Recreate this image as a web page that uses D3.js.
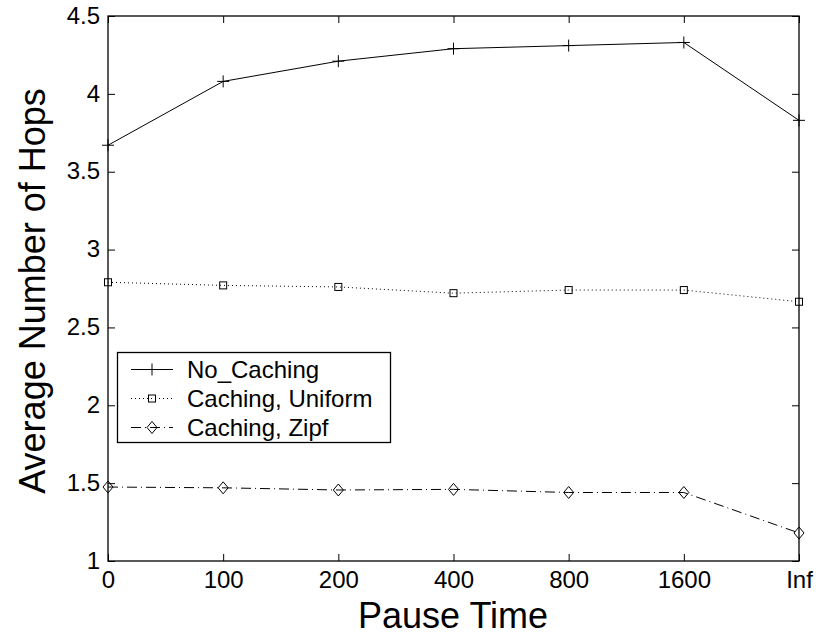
<!DOCTYPE html>
<html lang="en">
<head>
  <meta charset="UTF-8">
  <title>Average Number of Hops vs Pause Time</title>
  <script src="https://d3js.org/d3.v7.min.js"></script>
  <style>
    body { margin: 0; background: #fff; }
    text { font-family: "Liberation Sans", Arial, sans-serif; fill: #000; }
    .line { fill: none; stroke: #000; stroke-width: 1; }
  </style>
</head>
<body>
  <svg width="832" height="636"></svg>
  <script>
    const pauseTimes = ["0", "100", "200", "400", "800", "1600", "Inf"];
    const noCaching = [3.67, 4.08, 4.21, 4.29, 4.31, 4.33, 3.83];
    const cachingUniform = [2.79, 2.77, 2.76, 2.72, 2.74, 2.74, 2.665];
    const cachingZipf = [1.475, 1.47, 1.456, 1.46, 1.44, 1.44, 1.18];
    const yTicks = [1, 1.5, 2, 2.5, 3, 3.5, 4, 4.5];

    const series = [
      { name: "No_Caching", values: noCaching, dash: null, marker: "plus" },
      { name: "Caching, Uniform", values: cachingUniform, dash: "1,3", marker: "square" },
      { name: "Caching, Zipf", values: cachingZipf, dash: "10,4,1,4", marker: "diamond" }
    ];

    const svg = d3.select("svg");
    const plotL = 108, plotR = 799, plotT = 16, plotB = 561;

    const x = d3.scalePoint().domain(pauseTimes).range([plotL, plotR]).padding(0);
    const y = d3.scaleLinear().domain([1, 4.5]).range([plotB, plotT]);

    // frame
    svg.append("rect")
      .attr("x", plotL).attr("y", plotT)
      .attr("width", plotR - plotL).attr("height", plotB - plotT)
      .attr("fill", "none").attr("stroke", "#000").attr("stroke-width", 1.3);

    // inward ticks on all sides
    const tickLen = 7;
    const axisBottom = d3.axisBottom(x).tickSize(-tickLen);
    const axisTop = d3.axisTop(x).tickSize(-tickLen).tickFormat("");
    const axisLeft = d3.axisLeft(y).tickValues(yTicks).tickSize(-tickLen).tickPadding(8).tickFormat(d3.format("~g"));
    const axisRight = d3.axisRight(y).tickValues(yTicks).tickSize(-tickLen).tickFormat("");

    function styleAxis(g) {
      g.attr("font-size", 24).attr("font-family", "'Liberation Sans', Arial, sans-serif");
      g.select(".domain").remove();
      g.selectAll(".tick line").attr("stroke", "#000");
      g.selectAll(".tick text").style("font-size", "24px").attr("fill", "#000");
    }

    svg.append("g").attr("transform", `translate(0,${plotB})`).call(axisBottom).call(styleAxis)
      .selectAll(".tick text").attr("y", 27).attr("dy", null);
    svg.append("g").attr("transform", `translate(0,${plotT})`).call(axisTop).call(styleAxis);
    svg.append("g").attr("transform", `translate(${plotL},0)`).call(axisLeft).call(styleAxis)
      .selectAll(".tick text").attr("dy", "0.3em");
    svg.append("g").attr("transform", `translate(${plotR},0)`).call(axisRight).call(styleAxis);

    const line = d3.line().x((d, i) => x(pauseTimes[i])).y(d => y(d));

    function drawMarker(g, type, cx, cy) {
      if (type === "plus") {
        g.append("path").attr("d", `M${cx - 6},${cy}H${cx + 6}M${cx},${cy - 6}V${cy + 6}`)
          .attr("stroke", "#000").attr("fill", "none");
      } else if (type === "square") {
        g.append("rect").attr("x", cx - 3.5).attr("y", cy - 3.5).attr("width", 7).attr("height", 7)
          .attr("stroke", "#000").attr("fill", "none");
      } else {
        g.append("path").attr("d", `M${cx},${cy - 6}L${cx + 5},${cy}L${cx},${cy + 6}L${cx - 5},${cy}Z`)
          .attr("stroke", "#000").attr("fill", "none");
      }
    }

    series.forEach(s => {
      const g = svg.append("g");
      g.append("path").attr("class", "line").attr("d", line(s.values))
        .attr("stroke-dasharray", s.dash);
      s.values.forEach((v, i) => drawMarker(g, s.marker, x(pauseTimes[i]), y(v)));
    });

    // legend
    const lg = svg.append("g");
    lg.append("rect").attr("x", 117.5).attr("y", 352.5).attr("width", 273).attr("height", 90)
      .attr("fill", "#fff").attr("stroke", "#000").attr("stroke-width", 1.3);
    series.forEach((s, i) => {
      const cy = 369.5 + i * 29;
      lg.append("line").attr("x1", 131).attr("x2", 173).attr("y1", cy).attr("y2", cy)
        .attr("stroke", "#000").attr("stroke-dasharray", s.dash);
      drawMarker(lg, s.marker, 152, cy);
      lg.append("text").attr("x", 187).attr("y", cy).attr("dy", "0.35em")
        .style("font-size", "24px").text(s.name);
    });

    // axis titles
    svg.append("text").attr("x", 453).attr("y", 628)
      .attr("text-anchor", "middle").style("font-size", "36px").text("Pause Time");
    svg.append("text").attr("transform", `translate(45,291) rotate(-90)`)
      .attr("text-anchor", "middle").style("font-size", "36px").text("Average Number of Hops");
  </script>
</body>
</html>
